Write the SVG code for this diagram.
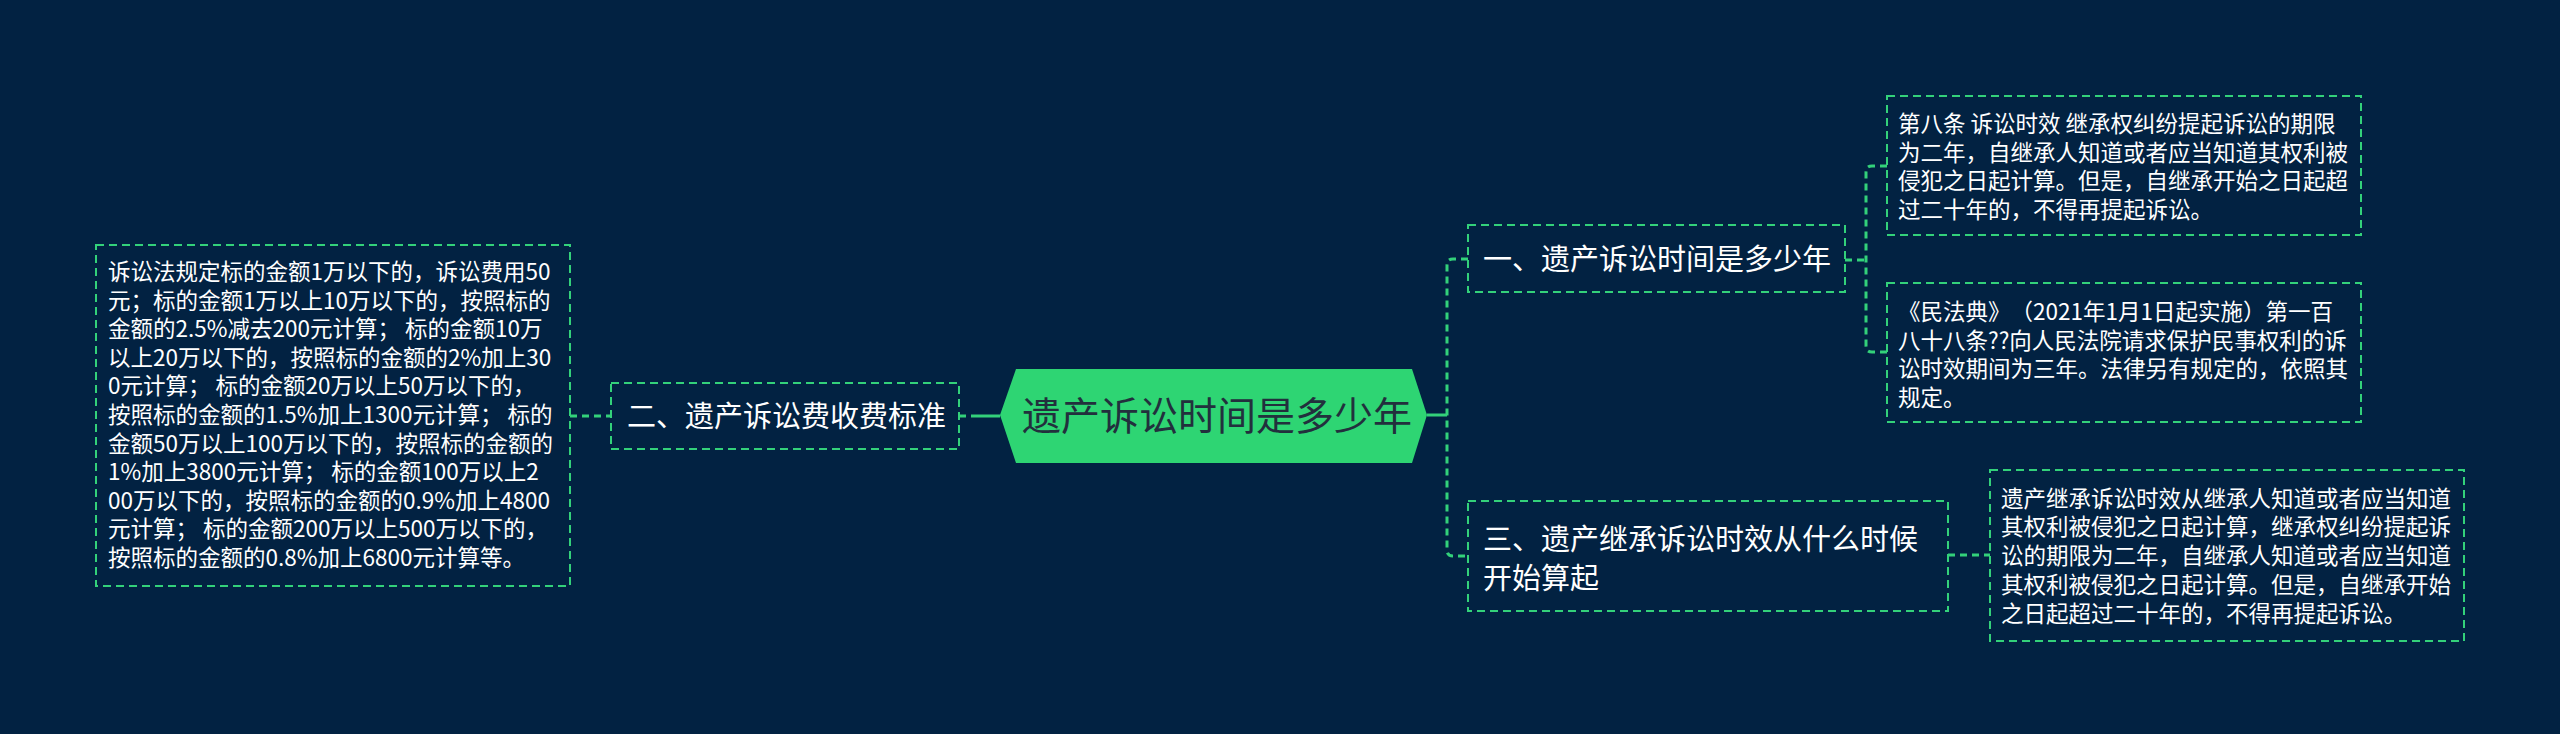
<svg xmlns="http://www.w3.org/2000/svg" width="2560" height="734" viewBox="0 0 2560 734">
<style>
.bg{fill:#022242}
.box{fill:none;stroke:#33d17a;stroke-width:2;stroke-dasharray:8 5}
.con{fill:none;stroke:#33d17a;stroke-width:3;stroke-dasharray:7 5}
.solid{fill:none;stroke:#33d17a;stroke-width:3}
text{text-spacing-trim:space-all}
.t1{font-family:"Noto Sans CJK SC","Noto Sans",sans-serif;font-size:29px;fill:#ffffff}
.t2{font-family:"Noto Sans CJK SC","Noto Sans",sans-serif;font-size:22.5px;fill:#ffffff}
.t0{font-family:"Noto Sans CJK SC","Noto Sans",sans-serif;font-size:39px;fill:#22303d}
</style>
<rect class="bg" x="0" y="0" width="2560" height="734"/>
<g id="connectors">
<line class="solid" x1="972" y1="416" x2="1000" y2="416"/>
<line class="con" x1="959" y1="416" x2="972" y2="416"/>
<line class="con" x1="570" y1="416" x2="611" y2="416"/>
<line class="solid" x1="1427" y1="415" x2="1447" y2="415"/>
<path class="con" d="M1468,259 H1453 Q1447,259 1447,265 V550 Q1447,556 1453,556 H1468"/>
<path class="con" d="M1845,260 H1866 M1887,166 H1872 Q1866,166 1866,172 V346 Q1866,352 1872,352 H1887"/>
<line class="con" x1="1948" y1="555" x2="1990" y2="555"/>
</g>
<g id="center">
<polygon points="1000,415 1016,369 1412,369 1427,415 1412,463 1016,463" fill="#2ed573"/>
<text class="t0" x="1022" y="430">遗产诉讼时间是多少年</text>
</g>
<g id="n1">
<rect class="box" x="1468" y="225" width="377" height="67"/>
<text class="t1" x="1483" y="270">一、遗产诉讼时间是多少年</text>
</g>
<g id="n1a">
<rect class="box" x="1887" y="96" width="474" height="139"/>
<text class="t2"><tspan x="1898" y="132">第八条 诉讼时效 继承权纠纷提起诉讼的期限</tspan><tspan x="1898" y="160.5">为二年，自继承人知道或者应当知道其权利被</tspan><tspan x="1898" y="189">侵犯之日起计算。但是，自继承开始之日起超</tspan><tspan x="1898" y="217.5">过二十年的，不得再提起诉讼。</tspan></text>
</g>
<g id="n1b">
<rect class="box" x="1887" y="283" width="474" height="139"/>
<text class="t2"><tspan x="1898" y="320">《民法典》（2021年1月1日起实施）第一百</tspan><tspan x="1898" y="348.5">八十八条??向人民法院请求保护民事权利的诉</tspan><tspan x="1898" y="377">讼时效期间为三年。法律另有规定的，依照其</tspan><tspan x="1898" y="405.5">规定。</tspan></text>
</g>
<g id="n2">
<rect class="box" x="611" y="383" width="348" height="66"/>
<text class="t1" x="627" y="427">二、遗产诉讼费收费标准</text>
</g>
<g id="n2a">
<rect class="box" x="96" y="245" width="474" height="341"/>
<text class="t2"><tspan x="108" y="280">诉讼法规定标的金额1万以下的，诉讼费用50</tspan><tspan x="108" y="308.6">元；标的金额1万以上10万以下的，按照标的</tspan><tspan x="108" y="337.2">金额的2.5%减去200元计算； 标的金额10万</tspan><tspan x="108" y="365.8">以上20万以下的，按照标的金额的2%加上30</tspan><tspan x="108" y="394.4">0元计算； 标的金额20万以上50万以下的，</tspan><tspan x="108" y="423">按照标的金额的1.5%加上1300元计算； 标的</tspan><tspan x="108" y="451.6">金额50万以上100万以下的，按照标的金额的</tspan><tspan x="108" y="480.2">1%加上3800元计算； 标的金额100万以上2</tspan><tspan x="108" y="508.8">00万以下的，按照标的金额的0.9%加上4800</tspan><tspan x="108" y="537.4">元计算； 标的金额200万以上500万以下的，</tspan><tspan x="108" y="566">按照标的金额的0.8%加上6800元计算等。</tspan></text>
</g>
<g id="n3">
<rect class="box" x="1468" y="501" width="480" height="110"/>
<text class="t1"><tspan x="1483" y="550">三、遗产继承诉讼时效从什么时候</tspan><tspan x="1483" y="589">开始算起</tspan></text>
</g>
<g id="n3a">
<rect class="box" x="1990" y="470" width="474" height="171"/>
<text class="t2"><tspan x="2001" y="506.5">遗产继承诉讼时效从继承人知道或者应当知道</tspan><tspan x="2001" y="535.3">其权利被侵犯之日起计算，继承权纠纷提起诉</tspan><tspan x="2001" y="564.1">讼的期限为二年，自继承人知道或者应当知道</tspan><tspan x="2001" y="592.9">其权利被侵犯之日起计算。但是，自继承开始</tspan><tspan x="2001" y="621.7">之日起超过二十年的，不得再提起诉讼。</tspan></text>
</g>
</svg>
